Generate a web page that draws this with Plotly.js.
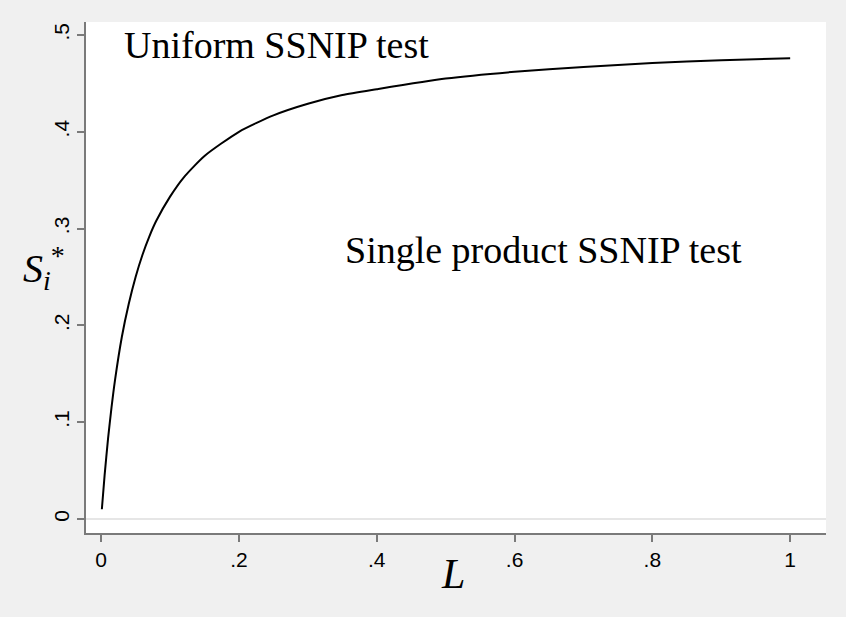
<!DOCTYPE html>
<html>
<head>
<meta charset="utf-8">
<script src="https://cdn.plot.ly/plotly-3.0.1.min.js"></script>
<style>html,body{margin:0;padding:0;background:#f0f0f0;}#chart{width:846px;height:617px;}</style>
</head>
<body>
<div id="chart"></div>
<script>
// Values
const L_values = [0.001, 0.005, 0.01, 0.015, 0.02, 0.03, 0.04, 0.05, 0.06, 0.07, 0.08, 0.1, 0.12, 0.15, 0.2, 0.25, 0.3, 0.35, 0.4, 0.5, 0.6, 0.7, 0.8, 0.9, 1.0];
const S_values = [0.010, 0.045, 0.083, 0.115, 0.143, 0.188, 0.222, 0.250, 0.273, 0.292, 0.308, 0.333, 0.353, 0.375, 0.400, 0.417, 0.429, 0.438, 0.444, 0.455, 0.462, 0.467, 0.471, 0.474, 0.476];
const xTickVals = [0, 0.2, 0.4, 0.6, 0.8, 1];
const xTickText = ['0', '.2', '.4', '.6', '.8', '1'];
const yTickVals = [0, 0.1, 0.2, 0.3, 0.4, 0.5];
const yTickText = ['0', '.1', '.2', '.3', '.4', '.5'];
const labelUniform = 'Uniform SSNIP test';
const labelSingle = 'Single product SSNIP test';

const trace = {
  x: L_values, y: S_values, type: 'scatter', mode: 'lines',
  line: {color: '#000000', width: 2, shape: 'spline', smoothing: 0.6},
  hoverinfo: 'skip'
};

const axisCommon = {
  showgrid: false, showline: true, linecolor: '#7a7a7a', linewidth: 2,
  ticks: 'outside', ticklen: 7, tickwidth: 2, tickcolor: '#7a7a7a',
  tickfont: {family: 'Liberation Sans, Arial, sans-serif', size: 21, color: '#000'},
  fixedrange: true
};

const layout = {
  width: 846, height: 617,
  paper_bgcolor: '#f0f0f0', plot_bgcolor: '#ffffff',
  margin: {l: 86, r: 20, t: 22, b: 84, pad: 0},
  showlegend: false,
  xaxis: Object.assign({}, axisCommon, {
    range: [-0.022, 1.052], tickmode: 'array', tickvals: xTickVals, ticktext: xTickText,
    zeroline: false
  }),
  yaxis: Object.assign({}, axisCommon, {
    range: [-0.0145, 0.5134], tickmode: 'array', tickvals: yTickVals, ticktext: yTickText,
    tickangle: -90,
    zeroline: true, zerolinecolor: '#e6e6e6', zerolinewidth: 2
  }),
  annotations: [
    {text: labelUniform, xref: 'paper', yref: 'paper', x: (122-86)/740, y: 1-(45-22)/511,
     xanchor: 'left', yanchor: 'middle', showarrow: false,
     font: {family: 'Liberation Serif, Times New Roman, serif', size: 38, color: '#000'}},
    {text: labelSingle, xref: 'paper', yref: 'paper', x: (343-86)/740, y: 1-(250-22)/511,
     xanchor: 'left', yanchor: 'middle', showarrow: false,
     font: {family: 'Liberation Serif, Times New Roman, serif', size: 38, color: '#000'}},
    {text: '<i>L</i>', xref: 'paper', yref: 'paper', x: (453-86)/740, y: -(574-533)/511,
     xanchor: 'center', yanchor: 'middle', showarrow: false,
     font: {family: 'Liberation Serif, Times New Roman, serif', size: 42, color: '#000'}},
    {text: '<i>S</i><sub><i>i</i></sub><sup>*</sup>', xref: 'paper', yref: 'paper', x: -(86-44)/740, y: 1-(268-22)/511,
     xanchor: 'center', yanchor: 'middle', showarrow: false,
     font: {family: 'Liberation Serif, Times New Roman, serif', size: 40, color: '#000'}}
  ]
};

Plotly.newPlot('chart', [trace], layout, {displayModeBar: false, staticPlot: true});
</script>
</body>
</html>
